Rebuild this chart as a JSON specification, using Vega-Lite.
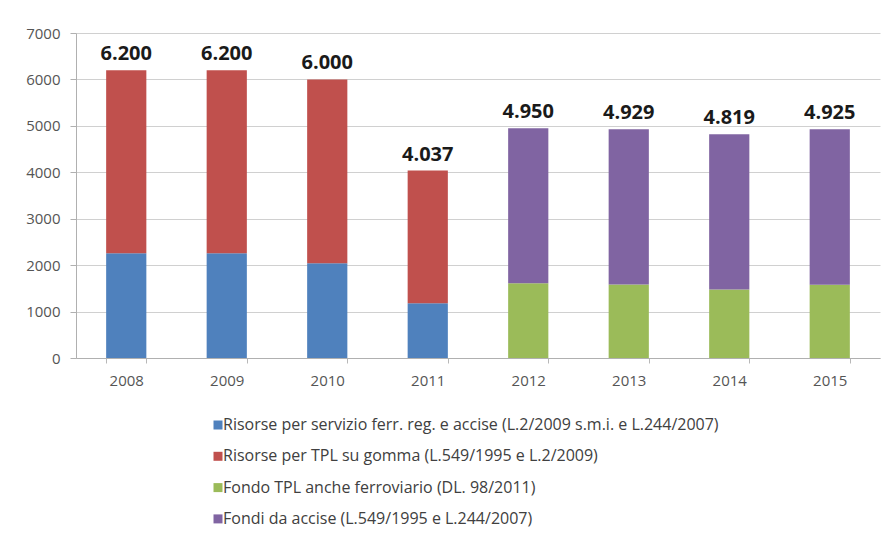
{
  "$schema": "https://vega.github.io/schema/vega-lite/v6.json",
  "width": 804,
  "height": 325,
  "autosize": {"type": "none"},
  "padding": {"left": 76, "top": 33, "right": 11, "bottom": 182},
  "background": "white",
  "config": {
    "font": "Open Sans",
    "view": {"stroke": null},
    "locale": {"number": {"decimal": ",", "thousands": ".", "grouping": [3], "currency": ["€", ""]}}
  },
  "data": {
    "values": [
      {"year": "2008", "serie": "Risorse per servizio ferr. reg. e accise (L.2/2009 s.m.i. e L.244/2007)", "value": 2258, "k": 1},
      {"year": "2008", "serie": "Risorse per TPL su gomma (L.549/1995 e L.2/2009)", "value": 3942, "k": 2},
      {"year": "2009", "serie": "Risorse per servizio ferr. reg. e accise (L.2/2009 s.m.i. e L.244/2007)", "value": 2258, "k": 1},
      {"year": "2009", "serie": "Risorse per TPL su gomma (L.549/1995 e L.2/2009)", "value": 3942, "k": 2},
      {"year": "2010", "serie": "Risorse per servizio ferr. reg. e accise (L.2/2009 s.m.i. e L.244/2007)", "value": 2040, "k": 1},
      {"year": "2010", "serie": "Risorse per TPL su gomma (L.549/1995 e L.2/2009)", "value": 3960, "k": 2},
      {"year": "2011", "serie": "Risorse per servizio ferr. reg. e accise (L.2/2009 s.m.i. e L.244/2007)", "value": 1180, "k": 1},
      {"year": "2011", "serie": "Risorse per TPL su gomma (L.549/1995 e L.2/2009)", "value": 2857, "k": 2},
      {"year": "2012", "serie": "Fondo TPL anche ferroviario (DL. 98/2011)", "value": 1610, "k": 3},
      {"year": "2012", "serie": "Fondi da accise (L.549/1995 e L.244/2007)", "value": 3340, "k": 4},
      {"year": "2013", "serie": "Fondo TPL anche ferroviario (DL. 98/2011)", "value": 1582, "k": 3},
      {"year": "2013", "serie": "Fondi da accise (L.549/1995 e L.244/2007)", "value": 3347, "k": 4},
      {"year": "2014", "serie": "Fondo TPL anche ferroviario (DL. 98/2011)", "value": 1475, "k": 3},
      {"year": "2014", "serie": "Fondi da accise (L.549/1995 e L.244/2007)", "value": 3344, "k": 4},
      {"year": "2015", "serie": "Fondo TPL anche ferroviario (DL. 98/2011)", "value": 1576, "k": 3},
      {"year": "2015", "serie": "Fondi da accise (L.549/1995 e L.244/2007)", "value": 3349, "k": 4}
    ]
  },
  "encoding": {
    "x": {
      "field": "year", "type": "nominal", "title": null,
      "scale": {"paddingInner": 0.6, "paddingOuter": 0.3},
      "axis": {
        "labelAngle": 0, "labelFontSize": 15, "labelColor": "#555555", "labelPadding": 10,
        "tickBand": "extent", "tickSize": 5, "tickColor": "#b8b8b8",
        "domainColor": "#b0b0b0", "grid": false
      }
    }
  },
  "layer": [
    {
      "mark": {"type": "bar"},
      "encoding": {
        "y": {
          "field": "value", "type": "quantitative", "aggregate": "sum", "title": null,
          "scale": {"domain": [0, 7000]},
          "axis": {
            "values": [0, 1000, 2000, 3000, 4000, 5000, 6000, 7000], "format": "d",
            "labelFontSize": 15, "labelColor": "#555555", "labelPadding": 10,
            "tickSize": 6, "tickColor": "#b0b0b0", "domainColor": "#b0b0b0",
            "gridColor": "#d0d0d0"
          }
        },
        "color": {
          "field": "serie", "type": "nominal", "title": null,
          "scale": {
            "domain": [
              "Risorse per servizio ferr. reg. e accise (L.2/2009 s.m.i. e L.244/2007)",
              "Risorse per TPL su gomma (L.549/1995 e L.2/2009)",
              "Fondo TPL anche ferroviario (DL. 98/2011)",
              "Fondi da accise (L.549/1995 e L.244/2007)"
            ],
            "range": ["#4F81BD", "#C0504D", "#9BBB59", "#8064A2"]
          },
          "legend": {
            "orient": "none", "legendX": 134, "legendY": 384, "direction": "vertical",
            "symbolType": "square", "symbolSize": 81, "symbolStrokeWidth": 0,
            "labelFontSize": 16, "labelColor": "#404040", "rowPadding": 15.3, "labelLimit": 700,
            "labelOffset": -3
          }
        },
        "order": {"field": "k", "type": "quantitative"}
      }
    },
    {
      "transform": [{"aggregate": [{"op": "sum", "field": "value", "as": "total"}], "groupby": ["year"]}],
      "mark": {"type": "text", "font": "Open Sans", "fontSize": 20, "fontWeight": "bold", "color": "#1a1a1a", "baseline": "alphabetic", "dy": -10},
      "encoding": {
        "y": {"field": "total", "type": "quantitative"},
        "text": {"field": "total", "type": "quantitative", "format": ",d"}
      }
    }
  ]
}
